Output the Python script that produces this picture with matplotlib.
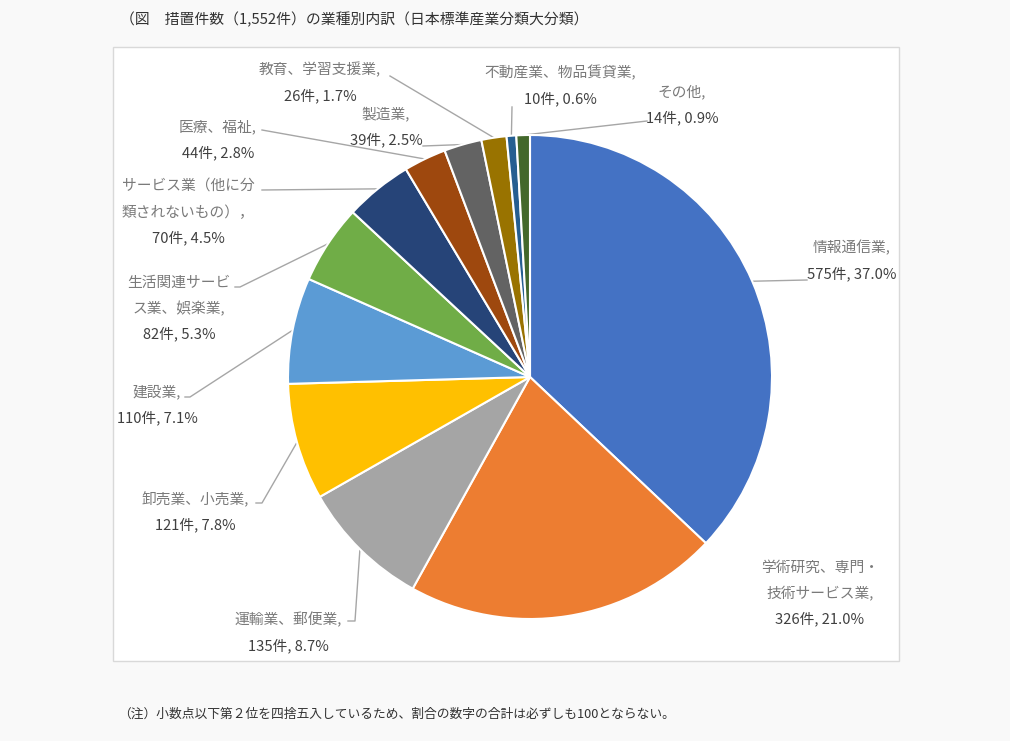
import numpy as np
import matplotlib
matplotlib.use("Agg")
import matplotlib.pyplot as plt
from matplotlib.patches import Rectangle

plt.rcParams['font.family'] = ['Noto Sans CJK JP', 'DejaVu Sans']

# data (clockwise from 12 o'clock)
names = [
    "情報通信業,",
    "学術研究、専門・\n技術サービス業,",
    "運輸業、郵便業,",
    "卸売業、小売業,",
    "建設業,",
    "生活関連サービ\nス業、娯楽業,",
    "サービス業（他に分\n類されないもの），",
    "医療、福祉,",
    "製造業,",
    "教育、学習支援業,",
    "不動産業、物品賃貸業,",
    "その他,",
]
counts = [575, 326, 135, 121, 110, 82, 70, 44, 39, 26, 10, 14]
colors = ["#4472C4", "#ED7D31", "#A5A5A5", "#FFC000", "#5B9BD5", "#70AD47",
          "#264478", "#9E480E", "#636363", "#997300", "#255E91", "#43682B"]

title = "（図　措置件数（1,552件）の業種別内訳（日本標準産業分類大分類）"
note = "（注）小数点以下第２位を四捨五入しているため、割合の数字の合計は必ずしも100とならない。"

# layout in pixels
W, H = 1010, 741
cx, cy, r = 530, 377, 242
label_pos = [(852, 248), (820, 568), (288, 620), (195, 499), (157, 392),
             (179, 283), (188, 187), (218, 127), (386, 114), (320, 70),
             (560, 73), (682, 92)]
leader_end = [[(807, 280)], [], [(355, 621), (348, 621)], [(262, 503), (256, 503)],
              [(190, 397), (185, 397)], [(240, 287), (235, 287)], [(262, 190)],
              [(262, 130)], [(423, 146)], [(390, 76)], [(512, 107)], [(647, 121)]]
line_gap = 25.5

fig = plt.figure(figsize=(W / 100, H / 100), dpi=100)
fig.patch.set_facecolor("#f9f9f9")

bg = fig.add_axes([0, 0, 1, 1])
bg.set_xlim(0, W)
bg.set_ylim(H, 0)
bg.axis("off")
bg.add_patch(Rectangle((113, 47), 786, 614, facecolor="white", edgecolor="#d9d9d9", lw=1))
bg.text(120, 20, title, fontsize=10.7, color="#333333", va="center", ha="left")
bg.text(118, 714, note, fontsize=9.2, color="#333333", va="center", ha="left")

ax = fig.add_axes([(cx - r) / W, (H - cy - r) / H, 2 * r / W, 2 * r / H])
ax.pie(counts, colors=colors, startangle=90, counterclock=False, radius=1,
       wedgeprops=dict(edgecolor="white", linewidth=1.5))
ax.set_xlim(-1, 1)
ax.set_ylim(-1, 1)
ax.axis("off")

total = sum(counts)
cum = np.cumsum([0] + counts)
for i, (name, v) in enumerate(zip(names, counts)):
    mid = (cum[i] + v / 2) / total
    theta = np.deg2rad(90 - mid * 360)
    sx, sy = cx + r * np.cos(theta), cy - r * np.sin(theta)
    if leader_end[i]:
        xs = [sx] + [p[0] for p in leader_end[i]]
        ys = [sy] + [p[1] for p in leader_end[i]]
        bg.plot(xs, ys, color="#a6a6a6", lw=1)
    x0, y0 = label_pos[i]
    lines = name.split("\n")
    for j, ln in enumerate(lines):
        bg.text(x0, y0 + j * line_gap, ln, fontsize=10.6, color="#7a7a7a",
                ha="center", va="center")
    val = f"{v}件, {v / total * 100:.1f}%"
    bg.text(x0, y0 + len(lines) * line_gap, val, fontsize=10.6, color="#404040",
            ha="center", va="center")

fig.savefig("out.png", dpi=100, facecolor=fig.get_facecolor())
